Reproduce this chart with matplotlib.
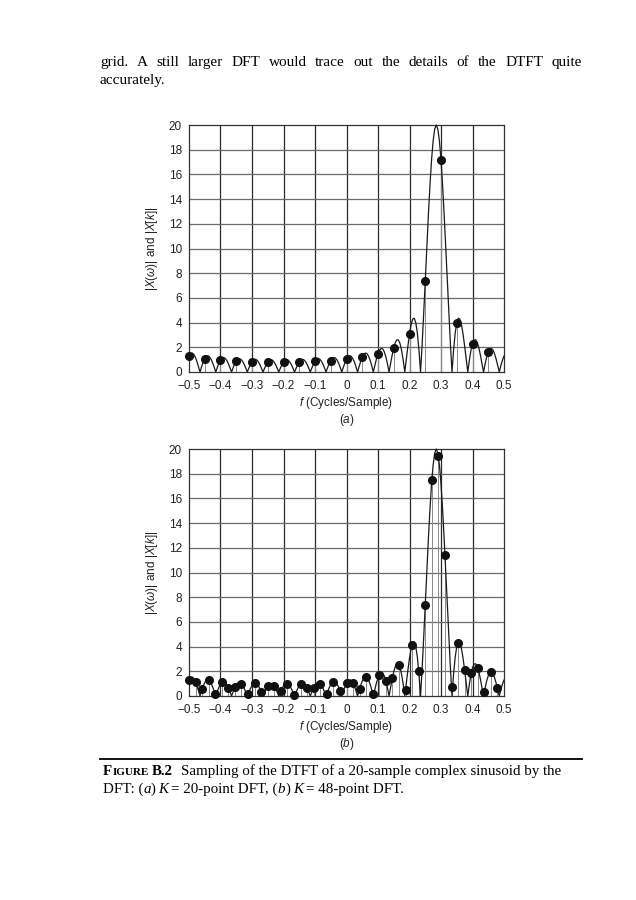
import matplotlib
matplotlib.use("Agg")
import matplotlib.pyplot as plt
import numpy as np

plt.rcParams['font.family'] = 'Liberation Sans'
plt.rcParams['mathtext.fontset'] = 'custom'
plt.rcParams['mathtext.rm'] = 'Liberation Sans'
plt.rcParams['mathtext.it'] = 'Liberation Sans:italic'
plt.rcParams['axes.unicode_minus'] = True

# |X(w)|, f = -0.5 ... 0.5 every 0.005
dtft_mag = [
    1.29, 1.49, 1.54, 1.44, 1.20, 0.86, 0.44, 0,
    0.43, 0.81, 1.09, 1.27, 1.32, 1.23, 1.04, 0.74, 0.39, 0,
    0.38, 0.71, 0.97, 1.13, 1.17, 1.11, 0.93, 0.67, 0.35, 0,
    0.34, 0.65, 0.89, 1.04, 1.08, 1.02, 0.87, 0.63, 0.33, 0,
    0.32, 0.61, 0.84, 0.98, 1.03, 0.98, 0.83, 0.60, 0.31, 0,
    0.31, 0.59, 0.81, 0.96, 1.00, 0.95, 0.81, 0.59, 0.31, 0,
    0.31, 0.59, 0.81, 0.95, 1.00, 0.96, 0.81, 0.59, 0.31, 0,
    0.31, 0.60, 0.83, 0.98, 1.03, 0.98, 0.84, 0.61, 0.32, 0,
    0.33, 0.63, 0.87, 1.02, 1.08, 1.04, 0.89, 0.65, 0.34, 0,
    0.35, 0.67, 0.93, 1.11, 1.17, 1.13, 0.97, 0.71, 0.38, 0,
    0.39, 0.74, 1.04, 1.23, 1.32, 1.27, 1.09, 0.81, 0.43, 0,
    0.44, 0.86, 1.20, 1.44, 1.54, 1.49, 1.29, 0.96, 0.52, 0,
    0.54, 1.05, 1.47, 1.78, 1.91, 1.87, 1.63, 1.22, 0.66, 0,
    0.70, 1.38, 1.97, 2.40, 2.61, 2.58, 2.29, 1.74, 0.95, 0,
    1.05, 2.11, 3.07, 3.82, 4.28, 4.36, 3.99, 3.14, 1.80, 0,
    2.19, 4.69, 7.37, 10.11, 12.75, 15.15, 17.17, 18.71, 19.67, 20.00,
    19.67, 18.71, 17.17, 15.15, 12.75, 10.11, 7.37, 4.69, 2.19, 0,
    1.80, 3.14, 3.99, 4.36, 4.28, 3.82, 3.07, 2.11, 1.05, 0,
    0.95, 1.74, 2.29, 2.58, 2.61, 2.40, 1.97, 1.38, 0.70, 0,
    0.66, 1.22, 1.63, 1.87, 1.91, 1.78, 1.47, 1.05, 0.54, 0,
    0.52, 0.96, 1.29]

# 20-point DFT samples, f = -0.5 + k/20
dft20_mag = [1.29, 1.09, 0.97, 0.89, 0.84, 0.81, 0.81, 0.83, 0.87, 0.93,
             1.04, 1.20, 1.47, 1.97, 3.07, 7.37, 17.17, 3.99, 2.29, 1.63]

# 48-point DFT samples, f = -0.5 + k/48
dft48_mag = [1.29, 1.15, 0.56, 1.29, 0.13, 1.11, 0.67, 0.69, 0.98, 0.16, 1.02, 0.36,
             0.81, 0.78, 0.41, 0.99, 0.11, 0.96, 0.61, 0.67, 1.00, 0.18, 1.16, 0.44,
             1.04, 1.05, 0.59, 1.53, 0.18, 1.74, 1.22, 1.49, 2.51, 0.52, 4.17, 2.05,
             7.38, 17.47, 19.42, 11.45, 0.69, 4.33, 2.11, 1.84, 2.27, 0.34, 1.92, 0.63]

xticks = [-0.5, -0.4, -0.3, -0.2, -0.1, 0, 0.1, 0.2, 0.3, 0.4, 0.5]
xticklabels = ['\u22120.5', '\u22120.4', '\u22120.3', '\u22120.2', '\u22120.1',
               '0', '0.1', '0.2', '0.3', '0.4', '0.5']
yticks = [0, 2, 4, 6, 8, 10, 12, 14, 16, 18, 20]

W, H = 636, 900
fig = plt.figure(figsize=(W / 100, H / 100), dpi=100)
renderer = fig.canvas.get_renderer()

f_dtft = np.linspace(-0.5, 0.5, len(dtft_mag))


def panel(top, bottom, f_dft, mag_dft, tag):
    h = bottom - top
    ax = fig.add_axes([189 / W, 1 - bottom / H, 315 / W, h / H])
    ax.set_xlim(-0.5, 0.5)
    ax.set_ylim(0, 20)
    ax.set_xticks(xticks)
    ax.set_xticklabels(xticklabels)
    ax.set_yticks(yticks)
    ax.tick_params(length=0, labelsize=8.5, colors='#222222')
    ax.tick_params(axis='x', pad=6)
    ax.tick_params(axis='y', pad=5)
    for x in xticks[1:-1]:
        ax.axvline(x, color='#2a2a2a', lw=0.9, zorder=1)
    for y in yticks[1:-1]:
        ax.axhline(y, color='#6a6a6a', lw=0.9, zorder=1)
    for s in ax.spines.values():
        s.set_color('#333333')
        s.set_linewidth(0.9)
    ax.vlines(f_dft, 0, mag_dft, color='#8a8a8a', lw=0.7, zorder=2)
    ax.plot(f_dtft, dtft_mag, color='#1a1a1a', lw=0.9, zorder=3, clip_on=False)
    ax.plot(f_dft, mag_dft, 'o', color='#111111', ms=5.5, zorder=4, clip_on=False)
    ax.text(0.5, -31 / h, r'$f$ (Cycles/Sample)', transform=ax.transAxes,
            ha='center', va='center', fontsize=8.5, color='#222222')
    ax.text(0.5, -48 / h, '($%s$)' % tag, transform=ax.transAxes,
            ha='center', va='center', fontsize=8.5, color='#222222')
    ax.text(-0.117, 0.5, r'$|X(\omega)|$ and $|X[k]|$', transform=ax.transAxes,
            rotation=90, ha='center', va='center', fontsize=8.5, color='#222222')
    return ax


panel(125, 372, np.arange(20) / 20 - 0.5, dft20_mag, 'a')
panel(449, 696, np.arange(48) / 48 - 0.5, dft48_mag, 'b')


def width(t):
    return t.get_window_extent(renderer).width


serif = 'Liberation Serif'

# justified first line of body text
words = "grid. A still larger DFT would trace out the details of the DTFT quite".split()
objs = [fig.text(0, 1 - 66 / H, w, fontsize=11, family=serif, va='baseline') for w in words]
ws = [width(t) for t in objs]
gap = (582 - 100 - sum(ws)) / (len(words) - 1)
x = 100
for t, w in zip(objs, ws):
    t.set_x(x / W)
    x += w + gap
fig.text(100 / W, 1 - 84 / H, "accurately.", fontsize=11, family=serif, va='baseline')

# caption rule
fig.add_artist(plt.Line2D([100 / W, 582 / W], [1 - 759 / H, 1 - 759 / H],
                          color='black', lw=1.3))


def run(x, y, pieces):
    for s, kw, g in pieces:
        t = fig.text(x / W, 1 - y / H, s, va='baseline', family=serif, **kw)
        x += width(t) + g
    return x


cs = 10.8
bold = dict(fontsize=cs, fontweight='bold')
small = dict(fontsize=cs * 0.74, fontweight='bold')
norm = dict(fontsize=cs)
ital = dict(fontsize=cs, fontstyle='italic')
sp = 2.8

run(103, 775, [("F", bold, 0.3), ("IGURE", small, sp), ("B.2", bold, 8),
               ("Sampling of the DTFT of a 20-sample complex sinusoid by the", norm, 0)])
run(103, 793, [("DFT: (", norm, 0), ("a", ital, 0), (")", norm, sp), ("K", ital, sp),
               ("= 20-point DFT, (", norm, 0), ("b", ital, 0), (")", norm, sp),
               ("K", ital, sp), ("= 48-point DFT.", norm, 0)])

fig.savefig("out.png", dpi=100, facecolor='white')
